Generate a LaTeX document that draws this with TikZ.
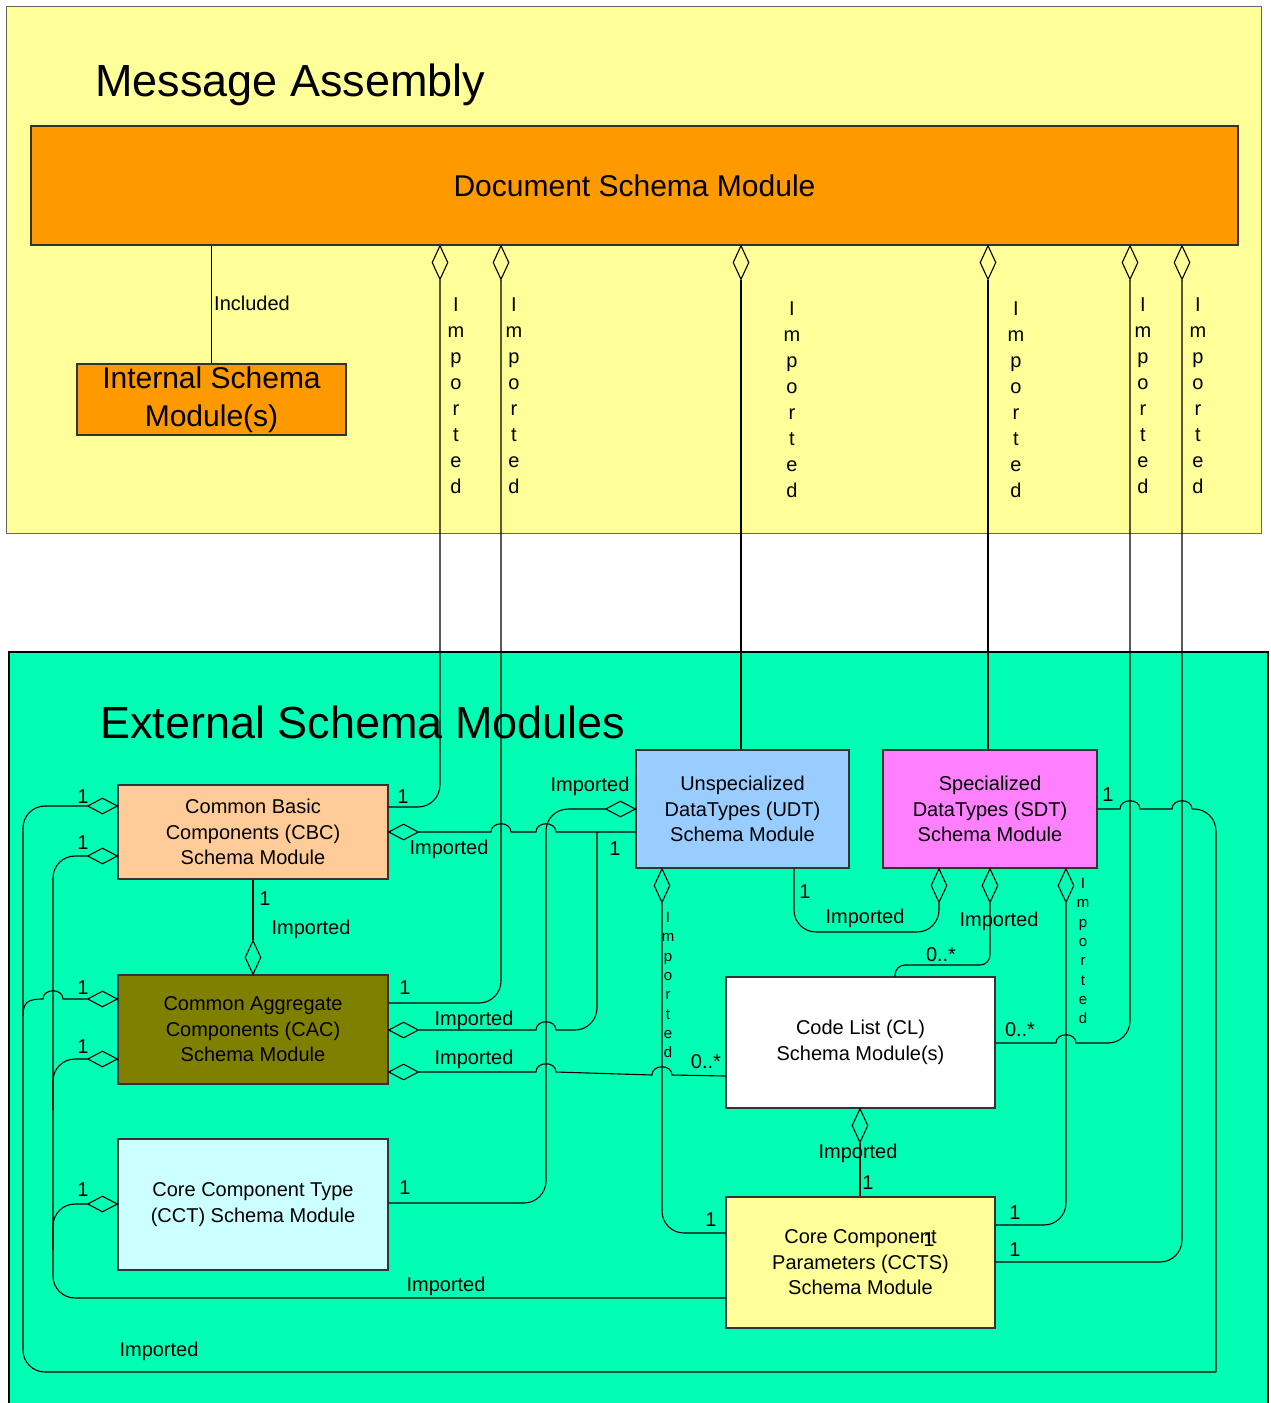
\documentclass[tikz,border=0pt]{standalone}
\usepackage{fontspec}
\setmainfont{Liberation Sans}
\usetikzlibrary{shapes.geometric}

\definecolor{areayellow}{HTML}{FFFF99}
\definecolor{areagreen}{HTML}{00FFB4}
\definecolor{docorange}{HTML}{FF9900}
\definecolor{cbcpeach}{HTML}{FFCC99}
\definecolor{cacolive}{HTML}{808000}
\definecolor{cctcyan}{HTML}{CCFFFF}
\definecolor{udtblue}{HTML}{99CCFF}
\definecolor{sdtpink}{HTML}{FF80FF}
\definecolor{boxline}{HTML}{333333}

\tikzset{
  module/.style={draw=boxline, line width=1.2pt, inner sep=0pt, align=center,
    font=\fontsize{20}{25.5}\selectfont},
  vdia/.style={diamond, draw, line width=1.1pt, fill=#1, inner sep=0pt,
    minimum width=16pt, minimum height=34pt},
  vdia/.default=areagreen,
  hdia/.style={diamond, draw, line width=1.1pt, fill=#1, inner sep=0pt,
    minimum width=30pt, minimum height=16pt},
  hdia/.default=areagreen,
  conn/.style={draw, line width=1.1pt, rounded corners=22pt},
  wire/.style={draw, line width=1.1pt},
  lbl/.style={font=\fontsize{20}{24}\selectfont, inner sep=0pt},
  vlbl/.style={font=\fontsize{20}{26}\selectfont, align=center, inner sep=0pt},
  svlbl/.style={font=\fontsize{15}{19.3}\selectfont, align=center, inner sep=0pt},
}
\newcommand{\vimported}{I\\m\\p\\o\\r\\t\\e\\d}
% line jumps, left to right and right to left
\newcommand{\hopr}[2]{-- (#1-10,#2) .. controls (#1-10,#2-11) and (#1+10,#2-11) .. (#1+10,#2)}
\newcommand{\hopl}[2]{-- (#1+10,#2) .. controls (#1+10,#2-11) and (#1-10,#2-11) .. (#1-10,#2)}

\begin{document}
\begin{tikzpicture}[x=1pt, y=-1pt]
  \useasboundingbox (0,0) rectangle (1270,1403);
  \fill[white] (0,0) rectangle (1270,1403);

  % areas
  \draw[draw=black!60, line width=1pt, fill=areayellow] (6,6) rectangle (1261,533);
  \draw[line width=1.8pt, fill=areagreen] (9,652) rectangle (1268,1430);
  \node[anchor=base west, font=\fontsize{45}{54}\selectfont, inner sep=0pt] (ttlma) at (95,96) {Message Assembly};
  \node[anchor=base west, font=\fontsize{45}{54}\selectfont, inner sep=0pt] (ttlext) at (100,738) {External Schema Modules};

  % message assembly
  \node[module, fill=docorange, minimum width=1207pt, minimum height=119pt,
    font=\fontsize{30}{36}\selectfont] (doc) at (634.5,185.5) {Document Schema Module};
  \node[module, fill=docorange, minimum width=269pt, minimum height=71pt,
    font=\fontsize{30}{38}\selectfont] (intl) at (211.5,399.5) {Internal Schema\\Module(s)};

  \draw[conn] (intl.north) -- (intl.north |- doc.south);
  \node[lbl, anchor=west] (lincl) at (214,303) {Included};

  \node[vdia=areayellow, anchor=north] (dcbc) at (440,245) {};
  \node[vdia=areayellow, anchor=north] (dcac) at (501,245) {};
  \node[vdia=areayellow, anchor=north] (dudt) at (741,245) {};
  \node[vdia=areayellow, anchor=north] (dsdt) at (988,245) {};
  \node[vdia=areayellow, anchor=north] (dcl) at (1130,245) {};
  \node[vdia=areayellow, anchor=north] (dccts) at (1182,245) {};

  \node[vlbl] (vcbc) at (456,396) {\vimported};
  \node[vlbl] (vcac) at (514,396) {\vimported};
  \node[vlbl] (vudt) at (792,400) {\vimported};
  \node[vlbl] (vsdt) at (1016,400) {\vimported};
  \node[vlbl] (vcl) at (1143,396) {\vimported};
  \node[vlbl] (vccts) at (1198,396) {\vimported};

  % external schema modules
  \node[module, fill=cbcpeach, minimum width=270pt, minimum height=94pt] (cbc) at (253,832)
    {Common Basic\\Components (CBC)\\Schema Module};
  \node[module, fill=cacolive, minimum width=270pt, minimum height=109pt] (cac) at (253,1029.5)
    {Common Aggregate\\Components (CAC)\\Schema Module};
  \node[module, fill=cctcyan, minimum width=270pt, minimum height=131pt] (cct) at (253,1204.5)
    {Core Component Type\\(CCT) Schema Module};
  \node[module, fill=udtblue, minimum width=213pt, minimum height=118pt] (udt) at (742.5,809)
    {Unspecialized\\DataTypes (UDT)\\Schema Module};
  \node[module, fill=sdtpink, minimum width=214pt, minimum height=118pt] (sdt) at (990,809)
    {Specialized\\DataTypes (SDT)\\Schema Module};
  \node[module, fill=white, minimum width=269pt, minimum height=131pt] (cl) at (860.5,1042.5)
    {Code List (CL)\\Schema Module(s)};
  \node[module, fill=areayellow, minimum width=269pt, minimum height=131pt] (ccts) at (860.5,1262.5)
    {Core Component\\Parameters (CCTS)\\Schema Module};

  \node[hdia, anchor=east] (cbcl1) at (118,806) {};
  \node[hdia, anchor=east] (cbcl2) at (118,856) {};
  \node[hdia, anchor=east] (cacl1) at (118,999) {};
  \node[hdia, anchor=east] (cacl2) at (118,1059) {};
  \node[hdia, anchor=east] (cctl) at (118,1204) {};
  \node[hdia, anchor=west] (cbcr) at (388,832) {};
  \node[hdia, anchor=west] (cacr1) at (388,1030) {};
  \node[hdia, anchor=west] (cacr2) at (388,1072) {};
  \node[hdia, anchor=east] (udtl) at (636,809) {};
  \node[vdia, anchor=south] (cact) at (253,975) {};
  \node[vdia, anchor=north] (udtb) at (662,868) {};
  \node[vdia, anchor=north] (sdtb1) at (939,868) {};
  \node[vdia, anchor=north] (sdtb2) at (990,868) {};
  \node[vdia, anchor=north] (sdtb3) at (1066,868) {};
  \node[vdia, anchor=north] (clb) at (860,1108) {};

  % imports from the document schema
  \draw[conn] (dcbc.south) |- (cbc.east |- 0,807);
  \draw[conn] (dcac.south) |- (cac.east |- 0,1003);
  \draw[conn] (dudt.south) -- (dudt.south |- udt.north);
  \draw[conn] (dsdt.south) -- (dsdt.south |- sdt.north);
  \draw[conn] (dcl.south) |- (1082,1043);
  \draw[wire] (1082,1043) \hopl{1066}{1043} -- (cl.east |- 0,1043);
  \draw[conn] (dccts.south) |- (ccts.east |- 0,1262);

  % imports between the modules
  \draw[wire] (sdt.east |- 0,809) \hopr{1130}{809} \hopr{1182}{809} -- (1192,809);
  \draw[conn] (1192,809) -| (1216,1372);
  \draw[conn] (1216,1372) -- (23,1372) |- (cbcl1.west);
  \draw[wire] (cacl1.west) \hopl{53}{999} .. controls (28,999) and (23,1002) .. (23,1016);
  \draw[conn] (cbcl2.west) -| (53,1100) |- (ccts.west |- 0,1298);
  \draw[conn] (cacl2.west) -| (53,1110);
  \draw[conn] (cctl.west) -| (53,1250);
  \draw[conn] (cct.east |- 0,1203) -| (546,809) -- (udtl.west);
  \draw[wire] (cbcr.east) \hopr{501}{832} \hopr{546}{832} -- (udt.west |- 0,832);
  \draw[wire] (cacr1.east) \hopr{546}{1030} -- (570,1030);
  \draw[conn] (570,1030) -| (597,832);
  \draw[wire] (cacr2.east) \hopr{546}{1072} -- (652,1075) .. controls (652,1064) and (672,1064) .. (672,1075)
    -- (cl.west |- 0,1076);
  \draw[conn] (udtb.south) |- (ccts.west |- 0,1233);
  \draw[conn] (udt.south -| 794,0) |- (sdtb1.south |- 0,932) -- (sdtb1.south);
  \draw[conn, rounded corners=10pt] (sdtb2.south) |- (895,965) -- (cl.north -| 895,0);
  \draw[conn] (sdtb3.south) |- (ccts.east |- 0,1225);
  \draw[conn] (clb.south) -- (clb.south |- ccts.north);
  \draw[conn] (cbc.south) -- (cact.north);

  % labels
  \node[svlbl] (vudtb) at (668,985) {\vimported};
  \node[svlbl] (vsdtb) at (1083,951) {\vimported};

  \node[lbl] (n1) at (403,797) {1};
  \node[lbl] (n2) at (405,988) {1};
  \node[lbl] (n3) at (83,797) {1};
  \node[lbl] (n4) at (83,843) {1};
  \node[lbl] (n5) at (83,988) {1};
  \node[lbl] (n6) at (83,1047) {1};
  \node[lbl] (n7) at (83,1190) {1};
  \node[lbl] (n8) at (405,1188) {1};
  \node[lbl] (n9) at (265,899) {1};
  \node[lbl] (n10) at (615,849) {1};
  \node[lbl] (n11) at (805,892) {1};
  \node[lbl] (n12) at (1108,795) {1};
  \node[lbl] (n13) at (711,1220) {1};
  \node[lbl] (n14) at (868,1183) {1};
  \node[lbl] (n15) at (1015,1213) {1};
  \node[lbl] (n16) at (1015,1250) {1};
  \node[lbl] (n17) at (929,1240) {1};

  \node[lbl] (m1) at (941,955) {0..*};
  \node[lbl] (m2) at (1020,1030) {0..*};
  \node[lbl] (m3) at (706,1062) {0..*};

  \node[lbl] (i1) at (449,849) {Imported};
  \node[lbl] (i2) at (590,786) {Imported};
  \node[lbl] (i3) at (311,929) {Imported};
  \node[lbl] (i4) at (474,1020) {Imported};
  \node[lbl] (i5) at (474,1059) {Imported};
  \node[lbl] (i6) at (865,918) {Imported};
  \node[lbl] (i7) at (999,921) {Imported};
  \node[lbl] (i8) at (858,1153) {Imported};
  \node[lbl] (i9) at (446,1286) {Imported};
  \node[lbl] (i10) at (159,1351) {Imported};
\end{tikzpicture}
\end{document}
